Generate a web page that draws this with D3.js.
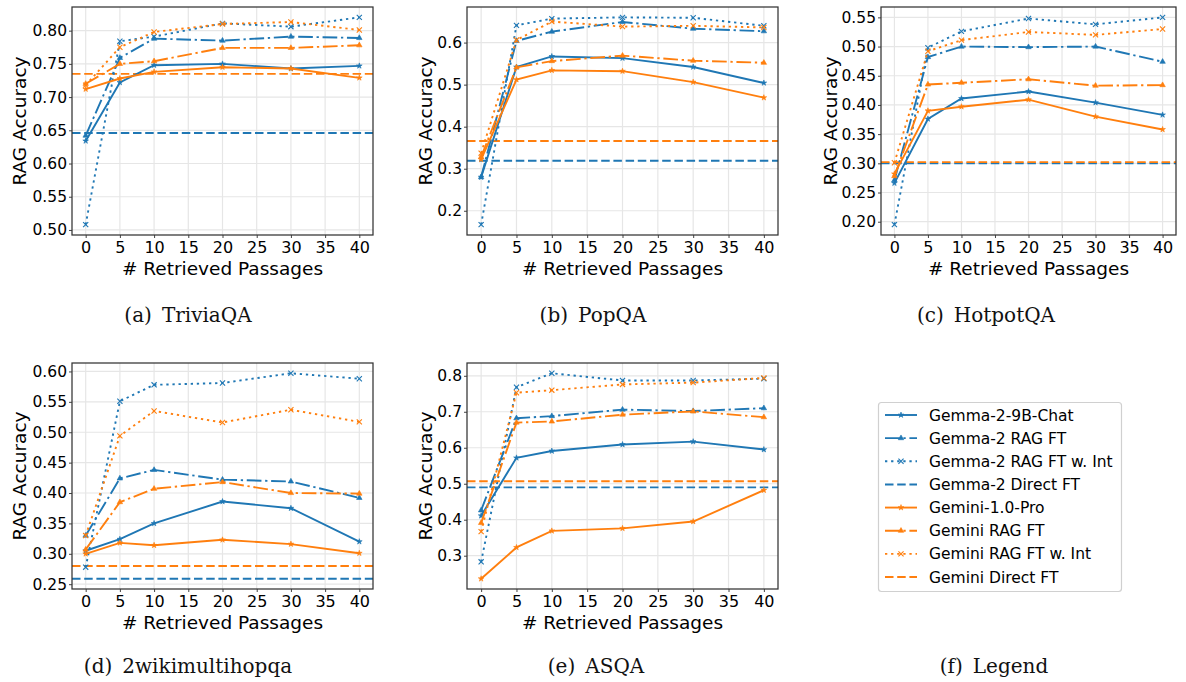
<!DOCTYPE html>
<html>
<head>
<meta charset="utf-8">
<script src="https://cdn.jsdelivr.net/npm/d3@7"></script>
<style>
  body { margin: 0; background: #fff; }
  svg { display: block; }
  .axis text { font-family: "DejaVu Sans", sans-serif; fill: #000; }
  .axis line { stroke: #444; }
  .axis-label { font-family: "DejaVu Sans", sans-serif; font-size: 18.5px; fill: #000; }
  .caption { font-family: "DejaVu Serif", serif; font-size: 20px; fill: #111; }
  .legend text { font-family: "DejaVu Sans", sans-serif; font-size: 15.5px; fill: #000; }
</style>
</head>
<body>
<svg id="fig" width="1186" height="682"></svg>
<script>
  // x values and legend names
  var passages = [0, 5, 10, 20, 30, 40];
  var seriesNames = ["Gemma-2-9B-Chat", "Gemma-2 RAG FT", "Gemma-2 RAG FT w. Int", "Gemma-2 Direct FT",
                     "Gemini-1.0-Pro", "Gemini RAG FT", "Gemini RAG FT w. Int", "Gemini Direct FT"];

  // rows: Gemma chat, Gemma RAG FT, Gemma RAG FT w. Int, Gemini Pro, Gemini RAG FT, Gemini RAG FT w. Int
  var triviaqa = [
    [0.634, 0.722, 0.748, 0.750, 0.743, 0.747],
    [0.642, 0.759, 0.788, 0.785, 0.791, 0.789],
    [0.508, 0.784, 0.791, 0.811, 0.806, 0.820],
    [0.712, 0.728, 0.738, 0.745, 0.743, 0.729],
    [0.720, 0.750, 0.754, 0.774, 0.774, 0.778],
    [0.718, 0.775, 0.798, 0.810, 0.813, 0.801]
  ];
  var popqa = [
    [0.280, 0.542, 0.567, 0.563, 0.542, 0.504],
    [0.280, 0.604, 0.626, 0.649, 0.633, 0.627],
    [0.167, 0.641, 0.657, 0.660, 0.659, 0.640],
    [0.322, 0.512, 0.534, 0.532, 0.506, 0.469],
    [0.328, 0.541, 0.556, 0.569, 0.557, 0.552],
    [0.337, 0.606, 0.650, 0.638, 0.640, 0.636]
  ];
  var hotpotqa = [
    [0.266, 0.376, 0.411, 0.423, 0.404, 0.383],
    [0.271, 0.482, 0.500, 0.499, 0.500, 0.474],
    [0.195, 0.498, 0.526, 0.548, 0.538, 0.550],
    [0.282, 0.390, 0.397, 0.409, 0.380, 0.358],
    [0.278, 0.435, 0.438, 0.444, 0.433, 0.434],
    [0.301, 0.492, 0.511, 0.525, 0.520, 0.530]
  ];
  var wikimultihop = [
    [0.305, 0.324, 0.350, 0.386, 0.375, 0.320],
    [0.330, 0.424, 0.438, 0.422, 0.419, 0.392],
    [0.278, 0.551, 0.578, 0.581, 0.597, 0.588],
    [0.300, 0.318, 0.314, 0.323, 0.316, 0.301],
    [0.307, 0.385, 0.407, 0.418, 0.400, 0.399],
    [0.330, 0.494, 0.535, 0.516, 0.537, 0.517]
  ];
  var asqa = [
    [0.411, 0.572, 0.591, 0.609, 0.617, 0.595],
    [0.426, 0.682, 0.688, 0.706, 0.702, 0.710],
    [0.283, 0.768, 0.807, 0.787, 0.787, 0.792],
    [0.236, 0.323, 0.369, 0.376, 0.395, 0.482],
    [0.391, 0.670, 0.673, 0.692, 0.701, 0.685],
    [0.367, 0.753, 0.760, 0.776, 0.781, 0.794]
  ];

  // Direct FT horizontal lines: [Gemma-2, Gemini]
  var triviaqaDirect = [0.646, 0.735];
  var popqaDirect = [0.319, 0.366];
  var hotpotqaDirect = [0.300, 0.302];
  var wikimultihopDirect = [0.259, 0.280];
  var asqaDirect = [0.490, 0.507];

  var xTicks = [0, 5, 10, 15, 20, 25, 30, 35, 40];
  var ticks05 = [0.20, 0.25, 0.30, 0.35, 0.40, 0.45, 0.50, 0.55, 0.60, 0.65, 0.70, 0.75, 0.80];
  var ticks1 = [0.2, 0.3, 0.4, 0.5, 0.6, 0.7, 0.8];

  var blue = "#1f77b4", orange = "#ff7f0e";
  var lw = 1.9;
  var dashes = { solid: null, dashdot: "14.7,3.7,2.3,3.7", dotted: "2.3,3.8", dashed: "8.5,3.7" };

  // style of each of the 6 curves
  var styles = [
    { color: blue, dash: "solid", marker: "star" },
    { color: blue, dash: "dashdot", marker: "tri" },
    { color: blue, dash: "dotted", marker: "x" },
    { color: orange, dash: "solid", marker: "star" },
    { color: orange, dash: "dashdot", marker: "tri" },
    { color: orange, dash: "dotted", marker: "x" }
  ];

  var panels = [
    { data: triviaqa, direct: triviaqaDirect, yTicks: ticks05, fmt: ".2f", tag: "(a)", name: "TriviaQA",
      box: [72, 373, 7, 235], labelX: 26, capX: 188, capY: 322 },
    { data: popqa, direct: popqaDirect, yTicks: ticks1, fmt: ".1f", tag: "(b)", name: "PopQA",
      box: [467, 778, 7, 235], labelX: 432, capX: 593, capY: 322 },
    { data: hotpotqa, direct: hotpotqaDirect, yTicks: ticks05, fmt: ".2f", tag: "(c)", name: "HotpotQA",
      box: [881, 1176, 7, 235], labelX: 837, capX: 986, capY: 322 },
    { data: wikimultihop, direct: wikimultihopDirect, yTicks: ticks05, fmt: ".2f", tag: "(d)", name: "2wikimultihopqa",
      box: [72, 373, 363, 589], labelX: 26, capX: 188, capY: 673 },
    { data: asqa, direct: asqaDirect, yTicks: ticks1, fmt: ".1f", tag: "(e)", name: "ASQA",
      box: [467, 778, 363, 589], labelX: 432, capX: 596, capY: 673 }
  ];

  var svg = d3.select("#fig");
  svg.append("rect").attr("width", 1186).attr("height", 682).attr("fill", "#fff");

  var symTimes = d3.symbolTimes || d3.symbolCross;

  function drawMarker(sel, kind, color) {
    if (kind == "star") {
      sel.append("path").attr("d", d3.symbol().type(d3.symbolStar).size(10)())
        .attr("fill", color).attr("stroke", color).attr("stroke-width", 0.6);
    } else if (kind == "tri") {
      sel.append("path").attr("d", d3.symbol().type(d3.symbolTriangle).size(13)())
        .attr("fill", color).attr("stroke", color).attr("stroke-width", 0.6);
    } else {
      sel.append("path").attr("d", d3.symbol().type(symTimes).size(19)())
        .attr("fill", "none").attr("stroke", color).attr("stroke-width", 1.1)
        .attr("transform", d3.symbolTimes ? null : "rotate(45)");
    }
  }

  function drawPanel(p) {
    var g = svg.append("g");
    var all = d3.merge(p.data).concat(p.direct);
    var lo = d3.min(all), hi = d3.max(all), pad = (hi - lo) * 0.05;

    var x = d3.scaleLinear().domain([-2, 42]).range([p.box[0], p.box[1]]);
    var y = d3.scaleLinear().domain([lo - pad, hi + pad]).range([p.box[3], p.box[2]]);
    var yTicks = p.yTicks.filter(function(t) { return t >= lo - pad && t <= hi + pad; });

    // grid
    g.append("g").selectAll("line").data(xTicks).enter().append("line")
      .attr("x1", function(d) { return x(d); }).attr("x2", function(d) { return x(d); })
      .attr("y1", p.box[2]).attr("y2", p.box[3])
      .attr("stroke", "#e6e6e6").attr("stroke-width", 1.2);
    g.append("g").selectAll("line").data(yTicks).enter().append("line")
      .attr("y1", function(d) { return y(d); }).attr("y2", function(d) { return y(d); })
      .attr("x1", p.box[0]).attr("x2", p.box[1])
      .attr("stroke", "#e6e6e6").attr("stroke-width", 1.2);

    // axes
    var gx = g.append("g").attr("class", "axis")
      .attr("transform", "translate(0," + p.box[3] + ")")
      .call(d3.axisBottom(x).tickValues(xTicks).tickSize(3).tickPadding(3.5));
    gx.select(".domain").remove();
    gx.selectAll("text").attr("font-size", 16);

    var gy = g.append("g").attr("class", "axis")
      .attr("transform", "translate(" + p.box[0] + ",0)")
      .call(d3.axisLeft(y).tickValues(yTicks).tickFormat(d3.format(p.fmt)).tickSize(3).tickPadding(2));
    gy.select(".domain").remove();
    gy.selectAll("text").attr("font-size", 15.5);

    // direct FT lines
    p.direct.forEach(function(v, i) {
      g.append("line")
        .attr("x1", p.box[0]).attr("x2", p.box[1])
        .attr("y1", y(v)).attr("y2", y(v))
        .attr("stroke", i == 0 ? blue : orange).attr("stroke-width", lw)
        .attr("stroke-dasharray", dashes.dashed);
    });

    // curves
    var line = d3.line()
      .x(function(d, i) { return x(passages[i]); })
      .y(function(d) { return y(d); });

    p.data.forEach(function(vals, k) {
      var s = styles[k];
      g.append("path").datum(vals)
        .attr("d", line)
        .attr("fill", "none")
        .attr("stroke", s.color).attr("stroke-width", lw)
        .attr("stroke-dasharray", dashes[s.dash]);
      vals.forEach(function(v, i) {
        var m = g.append("g").attr("transform", "translate(" + x(passages[i]) + "," + y(v) + ")");
        drawMarker(m, s.marker, s.color);
      });
    });

    // spines
    g.append("rect")
      .attr("x", p.box[0]).attr("y", p.box[2])
      .attr("width", p.box[1] - p.box[0]).attr("height", p.box[3] - p.box[2])
      .attr("fill", "none").attr("stroke", "#333").attr("stroke-width", 1.25);

    // labels
    svg.append("text").attr("class", "axis-label")
      .attr("text-anchor", "middle")
      .attr("x", (p.box[0] + p.box[1]) / 2).attr("y", p.box[3] + 39.5)
      .text("# Retrieved Passages");
    svg.append("text").attr("class", "axis-label")
      .attr("text-anchor", "middle")
      .attr("transform", "translate(" + p.labelX + "," + (p.box[2] + p.box[3]) / 2 + ") rotate(-90)")
      .text("RAG Accuracy");

    caption(p.capX, p.capY, p.tag, p.name);
  }

  function caption(cx, cy, tag, name) {
    var t = svg.append("text").attr("class", "caption")
      .attr("text-anchor", "middle").attr("x", cx).attr("y", cy);
    t.append("tspan").text(tag);
    t.append("tspan").attr("dx", 10).text(name);
  }

  panels.forEach(drawPanel);

  // legend
  var legendStyles = [
    styles[0], styles[1], styles[2], { color: blue, dash: "dashed", marker: null },
    styles[3], styles[4], styles[5], { color: orange, dash: "dashed", marker: null }
  ];
  var lg = svg.append("g").attr("class", "legend");
  lg.append("rect")
    .attr("x", 878.5).attr("y", 402.5).attr("width", 243).attr("height", 189)
    .attr("rx", 3).attr("fill", "#fff").attr("stroke", "#d0d0d0").attr("stroke-width", 1.2);

  var ly = d3.scalePoint().domain(seriesNames).range([415, 577]);
  seriesNames.forEach(function(name, i) {
    var s = legendStyles[i];
    var row = lg.append("g").attr("transform", "translate(0," + ly(name) + ")");
    row.append("line")
      .attr("x1", 885).attr("x2", 917).attr("y1", 0).attr("y2", 0)
      .attr("stroke", s.color).attr("stroke-width", lw)
      .attr("stroke-dasharray", dashes[s.dash]);
    if (s.marker) {
      var m = row.append("g").attr("transform", "translate(901,0)");
      drawMarker(m, s.marker, s.color);
    }
    row.append("text").attr("x", 929).attr("y", 0).attr("dy", "0.36em").text(name);
  });

  caption(994, 673, "(f)", "Legend");
</script>
</body>
</html>
